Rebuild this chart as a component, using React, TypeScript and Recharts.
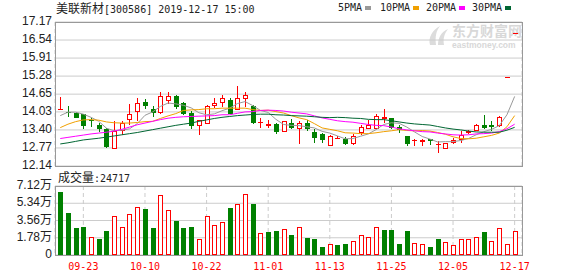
import React from "react";
import { ComposedChart, Bar, Line, XAxis, YAxis, CartesianGrid } from "recharts";

const RED = "#ff0000";
const GREEN = "#008000";

// 60 trading days, 09-18 .. 12-17
const dates = [
  "09-18", "09-19", "09-20", "09-23", "09-24", "09-25", "09-26", "09-27", "09-30", "10-08",
  "10-09", "10-10", "10-11", "10-14", "10-15", "10-16", "10-17", "10-18", "10-21", "10-22",
  "10-23", "10-24", "10-25", "10-28", "10-29", "10-30", "10-31", "11-01", "11-04", "11-05",
  "11-06", "11-07", "11-08", "11-11", "11-12", "11-13", "11-14", "11-15", "11-18", "11-19",
  "11-20", "11-21", "11-22", "11-25", "11-26", "11-27", "11-28", "11-29", "12-02", "12-03",
  "12-04", "12-05", "12-06", "12-09", "12-10", "12-11", "12-12", "12-13", "12-16", "12-17",
];

const opens = [
  14.12, 14.02, 14.0, 13.94, 13.73, 13.58, 13.44, 12.72, 13.35, 13.74,
  14.02, 14.38, 14.12, 13.98, 14.41, 14.59, 14.34, 13.99, 13.53, 13.6,
  14.25, 14.35, 14.44, 14.09, 14.49, 14.24, 13.65, 13.54, 13.61, 13.33,
  13.64, 13.44, 13.64, 13.33, 13.26, 12.85, 13.12, 13.09, 12.92, 13.3,
  13.44, 13.44, 13.79, 13.82, 13.49, 13.19, 13.03, 12.98, 13.09, 12.9,
  12.72, 12.95, 13.06, 13.29, 13.37, 13.57, 13.57, 13.53, 15.25, 16.78,
];
const highs = [
  14.56, 14.24, 14.03, 13.96, 13.8, 13.64, 13.47, 13.7, 13.7, 14.31,
  14.53, 14.47, 14.23, 14.72, 14.72, 14.62, 14.38, 14.05, 13.74, 14.26,
  14.53, 14.61, 14.52, 14.93, 14.72, 14.26, 13.82, 13.74, 13.65, 13.7,
  13.77, 13.7, 13.74, 13.43, 13.3, 13.21, 13.19, 13.14, 13.27, 13.56,
  13.76, 13.97, 14.13, 13.82, 13.56, 13.19, 13.07, 13.09, 13.09, 13.02,
  12.95, 13.12, 13.35, 13.4, 13.62, 13.93, 13.71, 13.9, 15.25, 16.78,
];
const lows = [
  14.08, 13.84, 13.8, 13.42, 13.5, 13.33, 12.78, 12.72, 13.23, 13.58,
  13.7, 14.12, 13.86, 13.97, 14.31, 14.13, 13.93, 13.44, 13.23, 13.6,
  14.17, 14.2, 13.95, 14.09, 14.2, 13.6, 13.48, 13.48, 13.27, 13.33,
  13.44, 12.92, 13.35, 12.95, 12.94, 12.85, 13.09, 12.86, 12.86, 13.23,
  13.42, 13.42, 13.65, 13.42, 13.3, 12.85, 12.84, 12.85, 12.88, 12.6,
  12.72, 12.92, 12.95, 13.26, 13.35, 13.44, 13.35, 13.49, 15.25, 16.78,
];
const closes = [
  14.13, 14.0, 13.83, 13.55, 13.7, 13.44, 12.79, 13.35, 13.65, 13.95,
  14.35, 14.24, 13.98, 14.57, 14.57, 14.2, 13.96, 13.53, 13.74, 14.23,
  14.34, 14.52, 13.97, 14.52, 14.61, 13.64, 13.66, 13.62, 13.33, 13.7,
  13.47, 13.64, 13.43, 13.13, 13.06, 13.19, 13.13, 12.92, 13.19, 13.49,
  13.56, 13.88, 13.85, 13.47, 13.39, 12.9, 13.04, 13.04, 13.02, 12.91,
  12.95, 13.05, 13.24, 13.36, 13.57, 13.46, 13.49, 13.86, 15.25, 16.78,
];

const volumes = [
  65100, 43700, 27500, 28500, 19000, 16300, 24400, 40300, 29200, 42400,
  49500, 47800, 27500, 61700, 46500, 34600, 27500, 28500, 16000, 40300,
  31200, 34300, 48800, 52600, 62700, 52900, 23100, 23400, 24400, 27100,
  20300, 28500, 17300, 16300, 8100, 10900, 10200, 11200, 14900, 21000,
  19000, 29200, 25400, 25400, 11200, 24400, 11900, 10900, 8100, 16300,
  12900, 10200, 17000, 17000, 19000, 23400, 14900, 28200, 10900, 24717,
];
// 1 = red (hollow) volume bar, 0 = green
const volUp = [
  0, 0, 0, 0, 1, 0, 0, 1, 1, 1,
  1, 0, 0, 1, 1, 0, 0, 0, 1, 1,
  1, 1, 0, 1, 1, 0, 1, 0, 0, 1,
  0, 1, 0, 0, 0, 1, 0, 0, 1, 1,
  1, 1, 0, 0, 0, 0, 1, 1, 0, 0,
  1, 1, 1, 1, 1, 0, 1, 1, 1, 1,
];

const ma5 = [
  13.9, 14.02, 14.02, 13.95, 13.84, 13.7, 13.46, 13.37, 13.39, 13.44,
  13.62, 13.91, 14.03, 14.22, 14.34, 14.31, 14.26, 14.17, 14.0, 13.93,
  13.96, 14.07, 14.16, 14.32, 14.39, 14.25, 14.08, 14.01, 13.77, 13.59,
  13.56, 13.55, 13.51, 13.47, 13.35, 13.29, 13.19, 13.09, 13.1, 13.18,
  13.26, 13.41, 13.59, 13.65, 13.63, 13.5, 13.33, 13.17, 13.08, 12.98,
  12.99, 12.99, 13.03, 13.1, 13.23, 13.34, 13.42, 13.55, 13.93, 14.57,
];
const ma10 = [
  13.48, 13.6, 13.69, 13.75, 13.76, 13.74, 13.68, 13.65, 13.64, 13.64,
  13.66, 13.69, 13.7, 13.8, 13.89, 13.97, 14.08, 14.1, 14.11, 14.14,
  14.14, 14.16, 14.16, 14.16, 14.16, 14.11, 14.08, 14.09, 14.04, 13.99,
  13.9, 13.82, 13.76, 13.62, 13.47, 13.42, 13.37, 13.3, 13.29, 13.27,
  13.27, 13.3, 13.34, 13.37, 13.41, 13.38, 13.37, 13.38, 13.36, 13.31,
  13.25, 13.16, 13.1, 13.09, 13.11, 13.16, 13.21, 13.29, 13.51, 13.9,
];
const ma20 = [
  13.1, 13.14, 13.18, 13.22, 13.26, 13.29, 13.32, 13.36, 13.42, 13.5,
  13.58, 13.64, 13.7, 13.76, 13.81, 13.84, 13.86, 13.87, 13.88, 13.89,
  13.9, 13.93, 13.93, 13.98, 14.03, 14.04, 14.08, 14.09, 14.08, 14.06,
  14.02, 13.99, 13.96, 13.89, 13.82, 13.77, 13.72, 13.69, 13.67, 13.63,
  13.59, 13.56, 13.55, 13.5, 13.44, 13.4, 13.37, 13.34, 13.33, 13.29,
  13.26, 13.23, 13.22, 13.23, 13.26, 13.27, 13.29, 13.34, 13.44, 13.6,
];
const ma30 = [
  12.91, 12.95, 13.0, 13.05, 13.08, 13.11, 13.15, 13.19, 13.23, 13.27,
  13.31, 13.36, 13.41, 13.46, 13.51, 13.56, 13.6, 13.64, 13.7, 13.75,
  13.8, 13.84, 13.87, 13.9, 13.92, 13.94, 13.95, 13.95, 13.93, 13.92,
  13.9, 13.89, 13.88, 13.86, 13.84, 13.83, 13.84, 13.83, 13.81, 13.8,
  13.77, 13.76, 13.76, 13.72, 13.68, 13.64, 13.61, 13.59, 13.57, 13.52,
  13.47, 13.43, 13.4, 13.36, 13.33, 13.32, 13.32, 13.32, 13.39, 13.49,
];

const priceTicks = [12.14, 12.77, 13.4, 14.03, 14.65, 15.28, 15.91, 16.54, 17.17];
const volTicks = [0, 17800, 35600, 53400, 71200];
const dateTicks = ["09-23", "10-10", "10-22", "11-01", "11-13", "11-25", "12-05", "12-17"];

const rows = dates.map((date, i) => ({
  date,
  open: opens[i],
  high: highs[i],
  low: lows[i],
  close: closes[i],
  range: [lows[i], highs[i]],
  volume: volumes[i],
  volUp: volUp[i] === 1,
  ma5: ma5[i],
  ma10: ma10[i],
  ma20: ma20[i],
  ma30: ma30[i],
}));

const MONO = '"DejaVu Sans Mono", "Liberation Mono", monospace';
const CJK = '"Noto Sans CJK SC", sans-serif';
const SANS = '"Liberation Sans", Arial, "Noto Sans CJK SC", sans-serif';

function Candle(props: any) {
  const { x, y, width, height, payload } = props;
  if (x == null || y == null || !payload) return null;
  const { open, close, high, low } = payload;
  const mid = Math.round(x + width / 2);
  const span = high - low;
  const k = span > 0 ? height / span : 0;
  const py = (v: number) => Math.round(y + (high - v) * k);
  const up = close >= open;
  const color = up ? RED : GREEN;
  const hiY = py(high);
  const loY = py(low);
  const bTop = py(Math.max(open, close));
  const bBot = py(Math.min(open, close));
  if (span === 0) {
    return <rect x={mid - 2} y={hiY} width={5} height={1} fill={color} />;
  }
  if (up) {
    if (bBot - bTop < 2) {
      return (
        <g>
          <line x1={mid + 0.5} x2={mid + 0.5} y1={hiY} y2={loY} stroke={color} />
          <rect x={mid - 2} y={bTop} width={5} height={Math.max(1, bBot - bTop)} fill={color} />
        </g>
      );
    }
    return (
      <g>
        <line x1={mid + 0.5} x2={mid + 0.5} y1={hiY} y2={bTop} stroke={color} />
        <line x1={mid + 0.5} x2={mid + 0.5} y1={bBot} y2={loY} stroke={color} />
        <rect x={mid - 1.5} y={bTop + 0.5} width={4} height={bBot - bTop - 1} fill="#fff" stroke={color} />
      </g>
    );
  }
  return (
    <g>
      <line x1={mid + 0.5} x2={mid + 0.5} y1={hiY} y2={loY} stroke={color} />
      <rect x={mid - 2} y={bTop} width={5} height={Math.max(1, bBot - bTop)} fill={color} />
    </g>
  );
}

function VolBar(props: any) {
  const { x, y, width, height, payload } = props;
  if (x == null || y == null || !payload) return null;
  const mid = Math.round(x + width / 2);
  const top = Math.round(y);
  const bottom = Math.round(y + height);
  if (payload.volUp) {
    return (
      <rect x={mid - 1.5} y={top + 0.5} width={4} height={Math.max(1, bottom - top - 1)} fill="#fff" stroke={RED} />
    );
  }
  return <rect x={mid - 2} y={top} width={5} height={bottom - top} fill={GREEN} />;
}

function PriceTick(props: any) {
  const { x, y, payload } = props;
  return (
    <text x={x} y={y} dy={3} textAnchor="end" fontSize={12} fontFamily={SANS} fill="#222">
      {Number(payload.value).toFixed(2)}
    </text>
  );
}

function VolTick(props: any) {
  const { x, y, payload } = props;
  const v = Number(payload.value);
  const label = v === 0 ? "0" : (v / 10000).toFixed(2) + "万";
  return (
    <text x={x} y={y} dy={3} textAnchor="end" fontSize={12} fontFamily={SANS} fill="#222">
      {label}
    </text>
  );
}

function DateTick(props: any) {
  const { x, y, payload } = props;
  return (
    <text x={x} y={y + 15} textAnchor="middle" fontSize={10} fontFamily={MONO} fill={RED}>
      {payload.value}
    </text>
  );
}

const legendItems = [
  { label: "5PMA", color: "#999999", left: 338 },
  { label: "10PMA", color: "#f0a000", left: 380 },
  { label: "20PMA", color: "#ff00ff", left: 426 },
  { label: "30PMA", color: "#006633", left: 472 },
];

export default function App() {
  return (
    <div
      style={{
        position: "absolute",
        left: 0,
        top: 0,
        width: 578,
        height: 276,
        background: "#fff",
        overflow: "hidden",
      }}
    >
      {/* watermark */}
      <svg style={{ position: "absolute", left: 427, top: 24 }} width={22} height={22}>
        <path d="M3 21 C1 14 5 6 13 2 C9 7 8 13 9 21 Z" fill="#dcdcdc" />
        <path d="M11 21 C11 14 14 8 21 5 C17 10 16 15 17 21 Z" fill="#dcdcdc" />
      </svg>
      <div
        style={{
          position: "absolute",
          left: 452,
          top: 23,
          fontFamily: CJK,
          fontWeight: 700,
          fontSize: 14,
          lineHeight: "14px",
          color: "#d8d8d8",
          whiteSpace: "nowrap",
        }}
      >
        东方财富网
      </div>
      <div
        style={{
          position: "absolute",
          left: 452,
          top: 41,
          fontFamily: SANS,
          fontWeight: 700,
          fontSize: 8.5,
          lineHeight: "8px",
          color: "#d8d8d8",
          whiteSpace: "nowrap",
        }}
      >
        eastmoney.com
      </div>

      {/* header */}
      <div style={{ position: "absolute", left: 56, top: 2, lineHeight: "12px", whiteSpace: "nowrap", color: "#222" }}>
        <span style={{ fontFamily: CJK, fontSize: 12 }}>美联新材</span>
        <span style={{ fontFamily: MONO, fontSize: 10 }}>[300586] 2019-12-17 15:00</span>
      </div>
      {legendItems.map((it) => (
        <div
          key={it.label}
          style={{
            position: "absolute",
            left: it.left,
            top: 2,
            lineHeight: "12px",
            whiteSpace: "nowrap",
            fontFamily: MONO,
            fontSize: 10,
            color: "#222",
          }}
        >
          {it.label}
          <span
            style={{
              display: "inline-block",
              width: 6,
              height: 4,
              marginLeft: 3,
              background: it.color,
              verticalAlign: "middle",
            }}
          />
        </div>
      ))}

      <div style={{ position: "absolute", left: 0, top: 0 }}>
        <ComposedChart width={578} height={176} data={rows} margin={{ top: 22, right: 56, bottom: 10, left: 0 }}>
          <CartesianGrid vertical={false} stroke="#cccccc" />
          <CartesianGrid horizontal={false} stroke="#cccccc" strokeDasharray="4 3" />
          <XAxis
            dataKey="date"
            ticks={dateTicks}
            interval={0}
            height={0}
            tick={false}
            axisLine={false}
            tickLine={false}
            padding={{ left: 1.4, right: 3.5 }}
          />
          <YAxis
            domain={[12.14, 17.17]}
            ticks={priceTicks}
            interval={0}
            width={55}
            axisLine={false}
            tickLine={false}
            tickSize={0}
            tickMargin={3}
            tick={<PriceTick />}
            allowDataOverflow
          />
          <Bar dataKey="range" shape={<Candle />} isAnimationActive={false} />
          <Line type="linear" dataKey="ma5" stroke="#999999" strokeWidth={1} dot={false} activeDot={false} isAnimationActive={false} />
          <Line type="linear" dataKey="ma10" stroke="#f0a000" strokeWidth={1} dot={false} activeDot={false} isAnimationActive={false} />
          <Line type="linear" dataKey="ma20" stroke="#ff00ff" strokeWidth={1} dot={false} activeDot={false} isAnimationActive={false} />
          <Line type="linear" dataKey="ma30" stroke="#006633" strokeWidth={1} dot={false} activeDot={false} isAnimationActive={false} />
        </ComposedChart>
      </div>

      <div style={{ position: "absolute", left: 58, top: 171, lineHeight: "12px", whiteSpace: "nowrap", color: "#222" }}>
        <span style={{ fontFamily: CJK, fontSize: 12 }}>成交量</span>
        <span style={{ fontFamily: MONO, fontSize: 10 }}>:24717</span>
      </div>

      <div style={{ position: "absolute", left: 0, top: 170 }}>
        <ComposedChart width={578} height={106} data={rows} margin={{ top: 16, right: 56, bottom: 0, left: 0 }}>
          <CartesianGrid vertical={false} stroke="#cccccc" />
          <CartesianGrid horizontal={false} stroke="#cccccc" strokeDasharray="4 3" />
          <XAxis
            dataKey="date"
            ticks={dateTicks}
            interval={0}
            height={21}
            axisLine={false}
            tickLine={false}
            tickSize={0}
            tickMargin={0}
            tick={<DateTick />}
            padding={{ left: 1.4, right: 3.5 }}
          />
          <YAxis
            domain={[0, 71200]}
            ticks={volTicks}
            interval={0}
            width={55}
            axisLine={false}
            tickLine={false}
            tickSize={0}
            tickMargin={3}
            tick={<VolTick />}
          />
          <Bar dataKey="volume" shape={<VolBar />} isAnimationActive={false} />
        </ComposedChart>
      </div>

      {/* panel borders */}
      <div
        style={{
          position: "absolute",
          left: 55,
          top: 22,
          width: 468,
          height: 145,
          boxSizing: "border-box",
          border: "1px solid #999",
        }}
      />
      <div
        style={{
          position: "absolute",
          left: 55,
          top: 186,
          width: 468,
          height: 70,
          boxSizing: "border-box",
          border: "1px solid #999",
        }}
      />
    </div>
  );
}
